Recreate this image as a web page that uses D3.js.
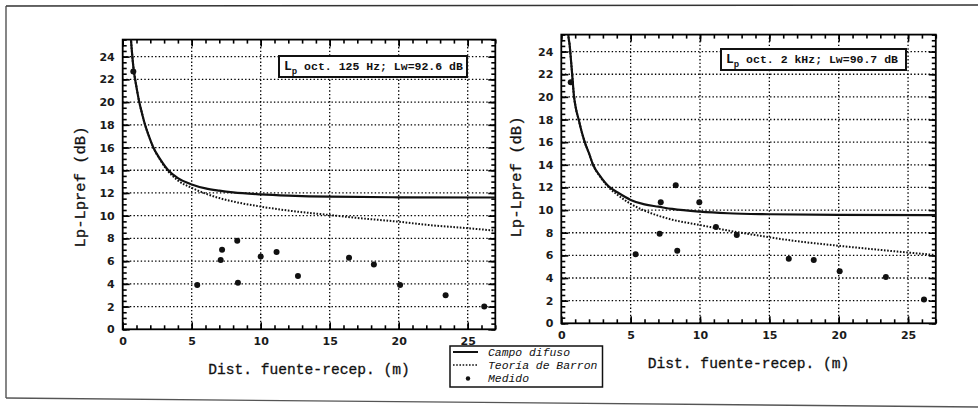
<!DOCTYPE html>
<html><head><meta charset="utf-8">
<script src="https://cdn.jsdelivr.net/npm/d3@7"></script>
<style>
body{margin:0;background:#fff;}
svg{display:block;}
.tick text{font-family:"DejaVu Sans",sans-serif;font-weight:bold;font-size:11px;fill:#1a1a1a;}
</style></head>
<body>
<svg id="c" width="978" height="410"></svg>
<script>
// ---- data ----
const xTickVals = [0, 5, 10, 15, 20, 25];
const yTickVals = [0, 2, 4, 6, 8, 10, 12, 14, 16, 18, 20, 22, 24];
const xLabel = "Dist. fuente-recep. (m)";
const yLabel = "Lp-Lpref (dB)";
const legendLabels = ["Campo difuso", "Teoría de Barron", "Medido"];

// Left panel: 125 Hz octave
const leftTitle = ["L", "p", " oct. 125 Hz; Lw=92.6 dB"];
const leftDist = [0.77, 5.4, 7.1, 7.2, 8.3, 8.35, 10.0, 11.15, 12.7, 16.4, 18.2, 20.1, 23.4, 26.2];
const leftMeas = [22.7, 3.9, 6.1, 7.0, 7.8, 4.1, 6.4, 6.8, 4.7, 6.3, 5.7, 3.9, 3.0, 2.0];
const leftCampoX = [0.55, 0.6, 0.7, 0.8, 0.9, 1.0, 1.2, 1.4, 1.62, 1.9, 2.22, 2.7, 3.3, 4.0, 5.0, 6, 7, 8, 10, 12, 15, 20, 27];
const leftCampoY = [26.5, 25.5, 24.0, 22.8, 22.0, 21.3, 20.0, 19.0, 18.0, 17.0, 16.0, 15.0, 14.0, 13.3, 12.75, 12.4, 12.2, 12.05, 11.88, 11.77, 11.67, 11.62, 11.6];
const leftBarronX = [0.55, 0.6, 0.7, 0.8, 0.9, 1.0, 1.2, 1.4, 1.62, 1.9, 2.22, 2.7, 3.3, 4.0, 5, 6, 7, 8, 10, 12, 15, 17, 20, 22, 25, 27];
const leftBarronY = [26.5, 25.5, 24.0, 22.8, 22.0, 21.3, 20.0, 19.0, 18.0, 17.0, 16.0, 14.95, 13.9, 13.1, 12.45, 11.95, 11.55, 11.25, 10.8, 10.45, 10.06, 9.8, 9.47, 9.2, 8.9, 8.68];

// Right panel: 2 kHz octave
const rightTitle = ["L", "p", " oct. 2 kHz; Lw=90.7 dB"];
const rightDist = [0.68, 5.36, 7.09, 7.17, 8.25, 8.36, 9.95, 11.15, 12.65, 16.4, 18.2, 20.07, 23.4, 26.15];
const rightMeas = [21.3, 6.1, 7.9, 10.7, 12.2, 6.4, 10.7, 8.5, 7.8, 5.7, 5.6, 4.6, 4.1, 2.1];
const rightCampoX = [0.45, 0.5, 0.6, 0.75, 0.92, 1.05, 1.25, 1.45, 1.69, 2.0, 2.29, 2.8, 3.5, 4.0, 5, 6, 7, 8, 10, 12, 15, 20, 27];
const rightCampoY = [27.0, 25.6, 24.6, 22.5, 20.0, 19.0, 18.0, 17.0, 16.0, 15.0, 14.0, 13.0, 12.0, 11.6, 10.9, 10.5, 10.3, 10.1, 9.86, 9.72, 9.63, 9.57, 9.56];
const rightBarronX = [0.45, 0.5, 0.6, 0.75, 0.92, 1.05, 1.25, 1.45, 1.69, 2.0, 2.29, 2.8, 3.5, 4.0, 5, 6, 7, 8, 10, 12, 15, 17, 20, 22, 25, 27];
const rightBarronY = [27.0, 25.6, 24.6, 22.5, 20.0, 19.0, 18.0, 17.0, 16.0, 15.0, 14.0, 12.95, 11.9, 11.4, 10.55, 9.95, 9.5, 9.15, 8.68, 8.2, 7.6, 7.25, 6.85, 6.6, 6.25, 6.03];

// ---- drawing ----
const svg = d3.select("#c");
const ink = "#111";

// scanned page frame
svg.append("line").attr("x1", 6).attr("y1", 6).attr("x2", 978).attr("y2", 5).attr("stroke", "#333").attr("stroke-width", 1.6);
svg.append("line").attr("x1", 6).attr("y1", 6).attr("x2", 6).attr("y2", 398).attr("stroke", "#444").attr("stroke-width", 1.3);
svg.append("line").attr("x1", 6).attr("y1", 398).attr("x2", 978).attr("y2", 407).attr("stroke", "#555").attr("stroke-width", 1.3);

function panel(cfg, idx) {
  const x = d3.scaleLinear().domain([0, 27]).range([cfg.x0, cfg.x1]);
  const y = d3.scaleLinear().domain([0, 25.5]).range([cfg.y0, cfg.y1]);
  const g = svg.append("g");
  const W = cfg.x1 - cfg.x0, H = cfg.y0 - cfg.y1;

  // grid
  g.append("g").selectAll("line").data(yTickVals.filter(v => v > 0)).join("line")
    .attr("x1", cfg.x0).attr("x2", cfg.x1).attr("y1", d => y(d)).attr("y2", d => y(d))
    .attr("stroke", "#000").attr("stroke-width", 1.3).attr("stroke-dasharray", "1.4,2.2");
  g.append("g").selectAll("line").data(xTickVals.filter(v => v > 0)).join("line")
    .attr("y1", cfg.y0).attr("y2", cfg.y1).attr("x1", d => x(d)).attr("x2", d => x(d))
    .attr("stroke", "#000").attr("stroke-width", 1.3).attr("stroke-dasharray", "1.4,2.2");

  // axes (inward ticks)
  const minorX = d3.range(0, 28, 1), minorY = d3.range(0, 25.6, 0.5);
  const bot = g.append("g").attr("transform", `translate(0,${cfg.y0})`)
    .call(d3.axisBottom(x).tickValues(xTickVals).tickSize(-7).tickPadding(cfg.xpad));
  const botm = g.append("g").attr("transform", `translate(0,${cfg.y0})`)
    .call(d3.axisBottom(x).tickValues(minorX).tickSize(-4).tickFormat(""));
  const top = g.append("g").attr("transform", `translate(0,${cfg.y1})`)
    .call(d3.axisTop(x).tickValues(xTickVals).tickSize(-7).tickFormat(""));
  const topm = g.append("g").attr("transform", `translate(0,${cfg.y1})`)
    .call(d3.axisTop(x).tickValues(minorX).tickSize(-4).tickFormat(""));
  const lef = g.append("g").attr("transform", `translate(${cfg.x0},0)`)
    .call(d3.axisLeft(y).tickValues(yTickVals).tickSize(-7).tickPadding(8));
  const lefm = g.append("g").attr("transform", `translate(${cfg.x0},0)`)
    .call(d3.axisLeft(y).tickValues(minorY).tickSize(-4).tickFormat(""));
  const rig = g.append("g").attr("transform", `translate(${cfg.x1},0)`)
    .call(d3.axisRight(y).tickValues(yTickVals).tickSize(-7).tickFormat(""));
  const rigm = g.append("g").attr("transform", `translate(${cfg.x1},0)`)
    .call(d3.axisRight(y).tickValues(minorY).tickSize(-4).tickFormat(""));
  [bot, botm, top, topm, lef, lefm, rig, rigm].forEach(a => {
    a.select(".domain").remove();
    a.selectAll(".tick line").attr("stroke", "#000").attr("stroke-width", 1.6);
  });
  // frame
  g.append("rect").attr("x", cfg.x0).attr("y", cfg.y1).attr("width", W).attr("height", H)
    .attr("fill", "none").attr("stroke", "#000").attr("stroke-width", 1.8);

  // clip
  const cid = "clip" + idx;
  svg.append("clipPath").attr("id", cid).append("rect")
    .attr("x", cfg.x0).attr("y", cfg.y1).attr("width", W).attr("height", H);
  const line = d3.line().x(d => x(d[0])).y(d => y(d[1])).curve(d3.curveMonotoneX);
  const cg = g.append("g").attr("clip-path", `url(#${cid})`);
  cg.append("path").datum(d3.zip(cfg.bx, cfg.by)).attr("d", line)
    .attr("fill", "none").attr("stroke", ink).attr("stroke-width", 2).attr("stroke-dasharray", "1.6,1.6");
  cg.append("path").datum(d3.zip(cfg.cx, cfg.cy)).attr("d", line)
    .attr("fill", "none").attr("stroke", ink).attr("stroke-width", 2.2);
  cg.append("g").selectAll("circle").data(d3.zip(cfg.mx, cfg.my)).join("circle")
    .attr("cx", d => x(d[0])).attr("cy", d => y(d[1])).attr("r", 3).attr("fill", ink);

  // annotation box
  g.append("rect").attr("x", cfg.bxX).attr("y", cfg.bxY).attr("width", cfg.bxW).attr("height", 21)
    .attr("fill", "#fff").attr("stroke", ink).attr("stroke-width", 2);
  const t = g.append("text").attr("x", cfg.bxX + 5).attr("y", cfg.bxY + 14)
    .attr("font-family", "Liberation Mono, monospace").attr("font-weight", "bold")
    .attr("font-size", 11.5).attr("fill", ink);
  t.append("tspan").attr("font-size", 13).text(cfg.title[0]);
  t.append("tspan").attr("dy", 4).attr("font-size", 9).text(cfg.title[1]);
  t.append("tspan").attr("dy", -4).text(cfg.title[2]);

  // axis labels
  g.append("text").attr("x", (cfg.x0 + cfg.x1) / 2).attr("y", cfg.y0 + 45)
    .attr("text-anchor", "middle").attr("font-family", "Liberation Mono, monospace")
    .attr("font-size", 14.6).attr("fill", ink).attr("stroke", ink).attr("stroke-width", 0.3).text(xLabel);
  g.append("text").attr("transform", `translate(${cfg.ylx},${cfg.yly}) rotate(-90)`)
    .attr("text-anchor", "middle").attr("font-family", "Liberation Mono, monospace")
    .attr("font-size", 15.5).attr("fill", ink).attr("stroke", ink).attr("stroke-width", 0.3).text(yLabel);
}

panel({x0: 122.7, x1: 495.3, y0: 329.3, y1: 39.6, cx: leftCampoX, cy: leftCampoY, bx: leftBarronX, by: leftBarronY,
  mx: leftDist, my: leftMeas, title: leftTitle, bxX: 279, bxY: 56, bxW: 188, ylx: 85, yly: 187, xpad: 8}, 0);
panel({x0: 561.3, x1: 935.8, y0: 323.3, y1: 34.6, cx: rightCampoX, cy: rightCampoY, bx: rightBarronX, by: rightBarronY,
  mx: rightDist, my: rightMeas, title: rightTitle, bxX: 721, bxY: 49, bxW: 185, ylx: 521, yly: 177, xpad: 8}, 1);

// legend
const lg = svg.append("g");
lg.append("rect").attr("x", 450).attr("y", 346).attr("width", 152.5).attr("height", 41)
  .attr("fill", "#fff").attr("stroke", ink).attr("stroke-width", 1.5);
lg.append("line").attr("x1", 453).attr("x2", 478).attr("y1", 352).attr("y2", 352).attr("stroke", ink).attr("stroke-width", 2);
lg.append("line").attr("x1", 453).attr("x2", 478).attr("y1", 365).attr("y2", 365).attr("stroke", ink).attr("stroke-width", 1.6).attr("stroke-dasharray", "1.6,1.6");
lg.append("circle").attr("cx", 468).attr("cy", 378.5).attr("r", 2.2).attr("fill", ink);
lg.selectAll("text").data(legendLabels).join("text")
  .attr("x", 488).attr("y", (d, i) => 355.5 + i * 13)
  .attr("font-family", "Liberation Mono, monospace").attr("font-style", "italic")
  .attr("font-size", 11.4).attr("fill", ink).text(d => d);
</script>
</body></html>
